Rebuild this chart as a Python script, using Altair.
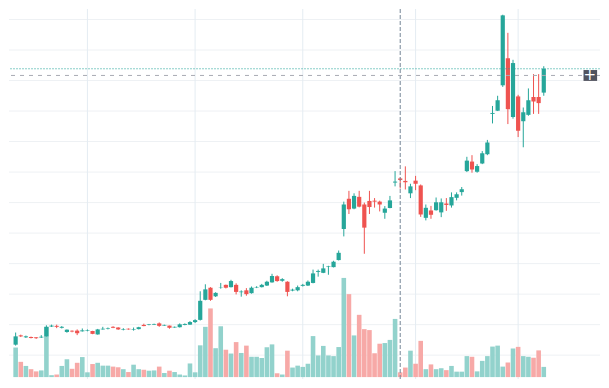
import altair as alt
import pandas as pd

# ---- data (one candle per trading day) ----
opens = [10.75, 13.18, 12.68, 12.75, 12.68, 12.63, 12.93, 15.5, 15.68, 15.18,
         14.08, 14.43, 14.43, 14.25, 14.43, 14.33, 13.43, 14.75, 14.93, 15.43,
         15.25, 14.68, 14.93, 14.68, 14.83, 15.93, 15.93, 16.0, 16.33, 15.75,
         15.75, 15.25, 15.33, 15.93, 16.0, 16.68, 17.25, 22.5, 25.68, 23.43,
         25.75, 26.43, 25.83, 26.43, 24.5, 25.0, 24.25, 25.75, 25.83, 26.25,
         27.08, 28.68, 27.5, 27.25, 24.93, 25.0, 26.18, 26.25, 26.93, 29.83,
         29.58, 31.18, 31.08, 32.93, 41.08, 49.0, 46.43, 49.5, 47.5, 48.43,
         48.5, 48.25, 45.33, 46.58, 53.25, 54.33, 53.68, 50.43, 53.75, 52.5,
         44.0, 45.93, 46.0, 45.43, 47.75, 47.25, 49.25, 50.75, 56.25, 58.75,
         56.08, 58.25, 60.68, 71.25, 72.08, 78.75, 85.83, 70.43, 75.83, 69.33,
         71.0, 75.68, 75.68, 76.83]
closes = [12.93, 12.93, 12.93, 12.5, 12.45, 12.83, 15.43, 15.75, 15.43, 15.43,
          14.68, 14.18, 13.75, 14.5, 14.58, 13.58, 14.75, 14.93, 15.08, 15.18,
          14.75, 14.83, 14.75, 14.83, 15.33, 15.63, 16.08, 16.18, 15.68, 15.93,
          15.18, 15.43, 16.08, 16.18, 16.68, 17.18, 22.25, 25.25, 22.5, 24.33,
          25.83, 25.68, 27.43, 24.58, 24.68, 24.0, 25.68, 25.88, 26.43, 27.25,
          28.75, 27.43, 27.93, 24.58, 25.18, 25.83, 26.43, 27.25, 29.43, 30.08,
          30.75, 31.33, 32.5, 34.83, 47.5, 46.25, 49.75, 46.93, 41.43, 46.83,
          48.25, 47.5, 46.43, 48.58, 53.5, 53.93, 53.33, 52.25, 52.93, 44.88,
          46.63, 44.8, 48.08, 48.08, 47.38, 49.43, 50.18, 51.5, 59.0, 56.68,
          57.58, 60.93, 63.75, 71.5, 74.83, 97.08, 72.5, 84.58, 66.83, 71.68,
          74.83, 74.5, 74.08, 83.08]
highs = [13.93, 13.38, 13.13, 12.88, 12.75, 13.25, 15.83, 16.0, 16.0, 15.63,
         14.75, 14.5, 14.75, 15.0, 14.75, 14.38, 14.88, 15.43, 15.25, 15.58,
         15.33, 15.08, 15.0, 15.25, 15.43, 16.25, 16.18, 16.25, 16.58, 16.0,
         15.75, 15.5, 16.33, 16.33, 16.93, 17.43, 24.75, 26.58, 25.83, 24.5,
         26.93, 26.5, 27.75, 26.83, 25.0, 25.58, 26.0, 26.08, 26.68, 27.5,
         29.33, 28.93, 28.18, 27.38, 25.43, 26.25, 26.68, 27.58, 30.43, 30.43,
         31.93, 31.43, 32.75, 35.43, 48.25, 51.08, 50.43, 51.08, 48.0, 51.08,
         49.18, 48.5, 47.08, 49.75, 56.25, 54.58, 57.5, 52.93, 55.0, 52.75,
         47.5, 47.13, 49.33, 49.08, 49.18, 50.68, 50.68, 52.08, 60.0, 60.43,
         58.08, 61.5, 64.43, 73.33, 76.0, 97.25, 92.5, 85.43, 76.25, 72.93,
         77.93, 81.68, 81.68, 83.75]
lows = [10.5, 12.75, 12.5, 12.38, 12.25, 12.5, 12.88, 15.38, 15.08, 15.0,
        13.88, 14.0, 13.25, 14.18, 14.25, 13.5, 13.38, 14.68, 14.75, 15.08,
        14.63, 14.5, 14.68, 14.43, 14.75, 15.58, 15.83, 15.93, 15.43, 15.68,
        14.93, 15.18, 15.25, 15.83, 15.93, 16.43, 17.08, 22.38, 22.25, 23.25,
        25.43, 25.5, 25.75, 23.93, 23.33, 23.58, 24.13, 25.58, 25.75, 26.13,
        27.0, 27.25, 27.25, 23.43, 24.75, 24.75, 26.0, 26.13, 26.83, 28.58,
        29.5, 29.08, 31.0, 32.83, 39.13, 45.0, 46.25, 46.75, 34.58, 45.0,
        46.68, 45.68, 43.75, 46.5, 52.25, 51.68, 51.43, 49.18, 51.25, 44.25,
        43.33, 43.75, 45.88, 44.18, 45.83, 46.68, 48.58, 49.83, 56.0, 55.83,
        55.83, 58.08, 60.43, 68.75, 72.0, 78.33, 68.58, 70.0, 65.18, 62.5,
        70.75, 71.25, 71.25, 76.0]
volumes = [31000, 16000, 11700, 8300, 6000, 7000, 52700, 2000, 2700, 11700,
           18700, 8700, 15000, 21000, 5000, 13700, 15000, 12000, 12000, 11000,
           10300, 8300, 5300, 13000, 8300, 7700, 6700, 7000, 11000, 4300,
           6700, 5300, 2700, 1700, 14300, 5000, 33300, 52700, 72000, 30300,
           53300, 28700, 24700, 36700, 25300, 33000, 21300, 21300, 20000, 31300,
           34300, 4000, 2700, 27700, 10000, 12000, 10700, 14000, 43000, 22700,
           32700, 22700, 22000, 31500, 104000, 87000, 43700, 65300, 50300, 49300,
           25000, 35000, 35700, 39000, 61000, 5000, 10000, 27700, 14000, 38000,
           8300, 13300, 8300, 9300, 7300, 11700, 5700, 5700, 22000, 21300,
           6000, 17000, 22000, 32000, 33000, 11000, 15300, 30000, 31700, 22000,
           21300, 20300, 28000, 10700]

price_grid = [8, 16, 24, 32, 40, 48, 56, 64, 72, 80, 88, 96]
month_starts = [14, 35, 56, 78, 98]
crosshair_bar = 75
crosshair_price = 81.33

UP, DOWN = "#26a69a", "#ef5350"
UP_VOL, DOWN_VOL = "#92d2cc", "#f7a9a7"

df = pd.DataFrame({"i": range(len(opens)), "open": opens, "close": closes,
                   "high": highs, "low": lows, "volume": volumes})

W, H = 593, 372
xs = alt.Scale(domain=[-0.32, 112.99], nice=False, zero=False)
ps = alt.Scale(domain=[1.75, 98.75], nice=False, zero=False)
vs = alt.Scale(domain=[-2000, 386000], nice=False, zero=False)
X = alt.X("i:Q", scale=xs, axis=None)

is_up = alt.datum.close >= alt.datum.open

hgrid = alt.Chart(pd.DataFrame({"p": price_grid})).mark_rule(
    color="#eef1f4", strokeWidth=1).encode(y=alt.Y("p:Q", scale=ps, axis=None))
vgrid = alt.Chart(pd.DataFrame({"i": month_starts})).mark_rule(
    color="#e4ecf2", strokeWidth=1).encode(x=X)

vol = alt.Chart(df).mark_bar(size=4.6, clip=True).encode(
    x=X,
    y=alt.Y("volume:Q", scale=vs, axis=None),
    y2=alt.datum(0),
    color=alt.when(is_up).then(alt.value(UP_VOL)).otherwise(alt.value(DOWN_VOL)),
)

wick = alt.Chart(df).mark_rule(strokeWidth=1, clip=True).encode(
    x=X,
    y=alt.Y("low:Q", scale=ps, axis=None),
    y2="high:Q",
    color=alt.when(is_up).then(alt.value(UP)).otherwise(alt.value(DOWN)),
)
body = alt.Chart(df).mark_bar(size=4.2, clip=True).encode(
    x=X,
    y=alt.Y("open:Q", scale=ps, axis=None),
    y2="close:Q",
    color=alt.when(is_up).then(alt.value(UP)).otherwise(alt.value(DOWN)),
)

last = pd.DataFrame({"p": [closes[-1]]})
price_line = alt.Chart(last).mark_rule(
    color=UP, strokeWidth=1, strokeDash=[2, 1], opacity=0.55
).encode(y=alt.Y("p:Q", scale=ps, axis=None))

border = alt.Chart(last).mark_rule(color="#a3a6ad", strokeWidth=1).encode(
    y=alt.value(H - 0.5))

cross_v = alt.Chart(pd.DataFrame({"i": [crosshair_bar]})).mark_rule(
    color="#758696", strokeWidth=1, strokeDash=[4, 2]).encode(x=X)
cross_h = alt.Chart(pd.DataFrame({"p": [crosshair_price]})).mark_rule(
    color="#a8abb3", strokeWidth=1, strokeDash=[4, 5]).encode(
    y=alt.Y("p:Q", scale=ps, axis=None))

btn = pd.DataFrame({"i": [110.75], "i2": [113.4], "p": [82.75], "p2": [79.9],
                    "ic": [111.96], "pc": [crosshair_price], "t": ["+"]})
btn_box = alt.Chart(btn).mark_rect(color="#50535e", clip=True).encode(
    x=alt.X("i:Q", scale=xs, axis=None), x2="i2:Q",
    y=alt.Y("p:Q", scale=ps, axis=None), y2="p2:Q")
btn_txt = alt.Chart(btn).mark_text(
    color="white", fontSize=15, font="DejaVu Sans", baseline="middle",
    align="center", dy=0).encode(
    x=alt.X("ic:Q", scale=xs, axis=None),
    y=alt.Y("pc:Q", scale=ps, axis=None), text="t:N")

chart = alt.layer(
    hgrid, vgrid, border, vol, wick, body, price_line, cross_v, cross_h,
    btn_box, btn_txt
).resolve_scale(y="independent").properties(
    width=W, height=H, padding=0,
    autosize=alt.AutoSizeParams(type="fit", contains="padding"),
    background="white",
).configure_view(stroke=None)

chart.save("out.html", embed_options={"renderer": "svg", "actions": False})
